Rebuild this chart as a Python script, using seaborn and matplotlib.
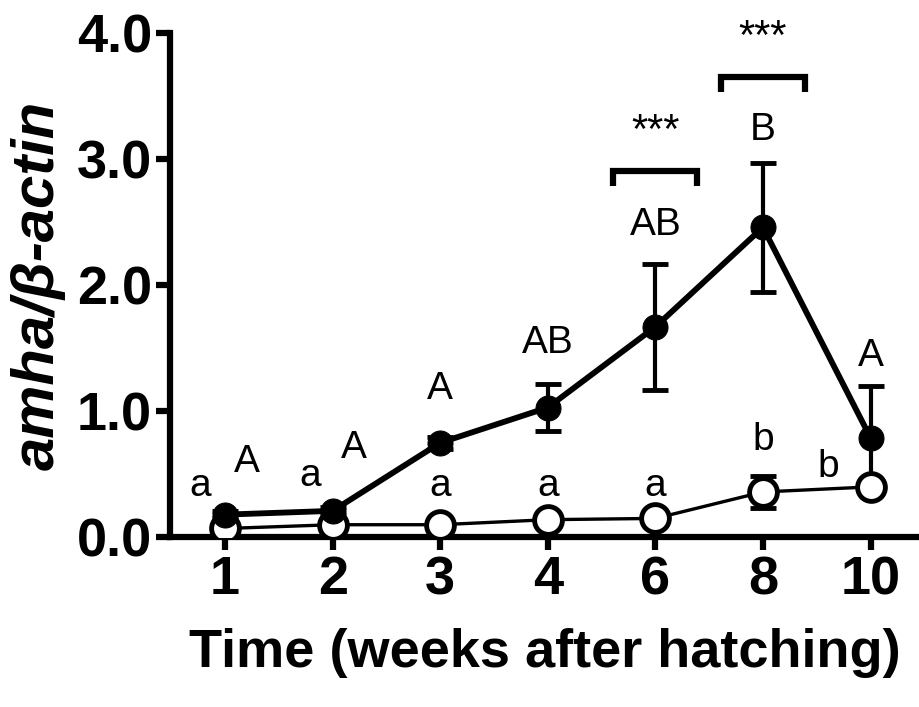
import matplotlib
matplotlib.use("Agg")
import matplotlib.pyplot as plt
import seaborn as sns
import numpy as np
import pandas as pd

sns.set_theme(style="ticks", rc={
    "text.color": "black", "axes.labelcolor": "black",
    "xtick.color": "black", "ytick.color": "black",
    "axes.edgecolor": "black",
})
plt.rcParams["font.family"] = ["Liberation Sans", "DejaVu Sans"]

# Sampling times (weeks after hatching)
weeks = ["1", "2", "3", "4", "6", "8", "10"]

# amha / beta-actin, filled series (mean and SEM)
filled_mean = [0.18, 0.21, 0.75, 1.03, 1.67, 2.46, 0.79]
filled_sem = [0.03, 0.03, 0.05, 0.19, 0.50, 0.51, 0.41]

# amha / beta-actin, open series (mean and SEM)
open_mean = [0.07, 0.10, 0.10, 0.14, 0.15, 0.36, 0.40]
open_sem = [0.02, 0.02, 0.02, 0.03, 0.03, 0.13, 0.04]

# Significance letters
filled_letters = ["A", "A", "A", "AB", "AB", "B", "A"]
open_letters = ["a", "a", "a", "a", "a", "b", "b"]

# Between-group comparisons
star_weeks = ["6", "8"]
star_text = ["***", "***"]

# Placement of the letter labels (x shift, centre height above the reference point)
filled_dx = [0.2, 0.2, 0, 0, 0, 0, 0]
filled_dy = [0.42, 0.50, 0.38, 0.32, 0.31, 0.26, 0.24]
open_dx = [-0.23, -0.21, 0, 0, 0, 0, -0.39]
open_dy = [0.34, 0.39, 0.31, 0.27, 0.26, 0.28, 0.16]

pos = np.arange(len(weeks))
df = pd.DataFrame({
    "pos": np.concatenate([pos, pos]),
    "value": filled_mean + open_mean,
    "group": ["filled"] * len(weeks) + ["open"] * len(weeks),
})

fig = plt.figure(figsize=(9.2, 7.07), dpi=100)
ax = fig.add_axes([0.185, 0.24, 0.815, 0.713])

# Error bars
ax.errorbar(pos, open_mean, yerr=open_sem, fmt="none", ecolor="black",
            elinewidth=3, capsize=9.5, capthick=3.5, zorder=2)
ax.errorbar(pos, filled_mean, yerr=filled_sem, fmt="none", ecolor="black",
            elinewidth=3, capsize=9.5, capthick=3.5, zorder=2)

# Open series
sns.lineplot(data=df[df.group == "open"], x="pos", y="value", ax=ax,
             color="black", lw=2.4, marker="o", markersize=20,
             markerfacecolor="white", markeredgecolor="black",
             markeredgewidth=3.5, zorder=3)
# Filled series
sns.lineplot(data=df[df.group == "filled"], x="pos", y="value", ax=ax,
             color="black", lw=4.2, marker="o", markersize=18,
             markerfacecolor="black", markeredgecolor="black", zorder=4)

# Letters above the filled points
for i in range(len(weeks)):
    base = filled_mean[i] if i < 2 else filled_mean[i] + filled_sem[i]
    ax.text(pos[i] + filled_dx[i], base + filled_dy[i], filled_letters[i],
            ha="center", va="center", fontsize=28)
# Letters for the open points
for i in range(len(weeks)):
    base = open_mean[i] + open_sem[i] if i == 5 else open_mean[i]
    ax.text(pos[i] + open_dx[i], base + open_dy[i], open_letters[i],
            ha="center", va="center", fontsize=28)

# Significance brackets
for w, s in zip(star_weeks, star_text):
    i = weeks.index(w)
    ybar = filled_mean[i] + filled_sem[i] + (0.74 if i == 4 else 0.68)
    ax.plot([pos[i] - 0.39, pos[i] - 0.39, pos[i] + 0.39, pos[i] + 0.39],
            [ybar - 0.12, ybar, ybar, ybar - 0.12], color="black", lw=4.5,
            solid_capstyle="butt", solid_joinstyle="miter", clip_on=False)
    ax.text(pos[i], ybar + 0.31, s, ha="center", va="center", fontsize=30)

ax.set_xlim(-0.51, 6.46)
ax.set_ylim(0, 4.0)
ax.set_xticks(pos)
ax.set_xticklabels(weeks)
ax.set_yticks([0, 1, 2, 3, 4])
ax.set_yticklabels(["0.0", "1.0", "2.0", "3.0", "4.0"])
ax.tick_params(axis="both", labelsize=39, width=4.5, direction="out",
               color="black")
ax.tick_params(axis="y", length=10, pad=3)
ax.tick_params(axis="x", length=9, pad=4)
for lab in ax.get_xticklabels() + ax.get_yticklabels():
    lab.set_fontweight("bold")

sns.despine(ax=ax)
for sp in ["left", "bottom"]:
    ax.spines[sp].set_linewidth(4.5)
    ax.spines[sp].set_color("black")

ax.set_xlabel("Time (weeks after hatching)", fontsize=39, fontweight="bold",
              labelpad=16)
ax.set_ylabel("amha/β-actin", fontsize=43, fontweight="bold",
              fontstyle="italic", labelpad=8)

fig.savefig("out.png", dpi=100)
